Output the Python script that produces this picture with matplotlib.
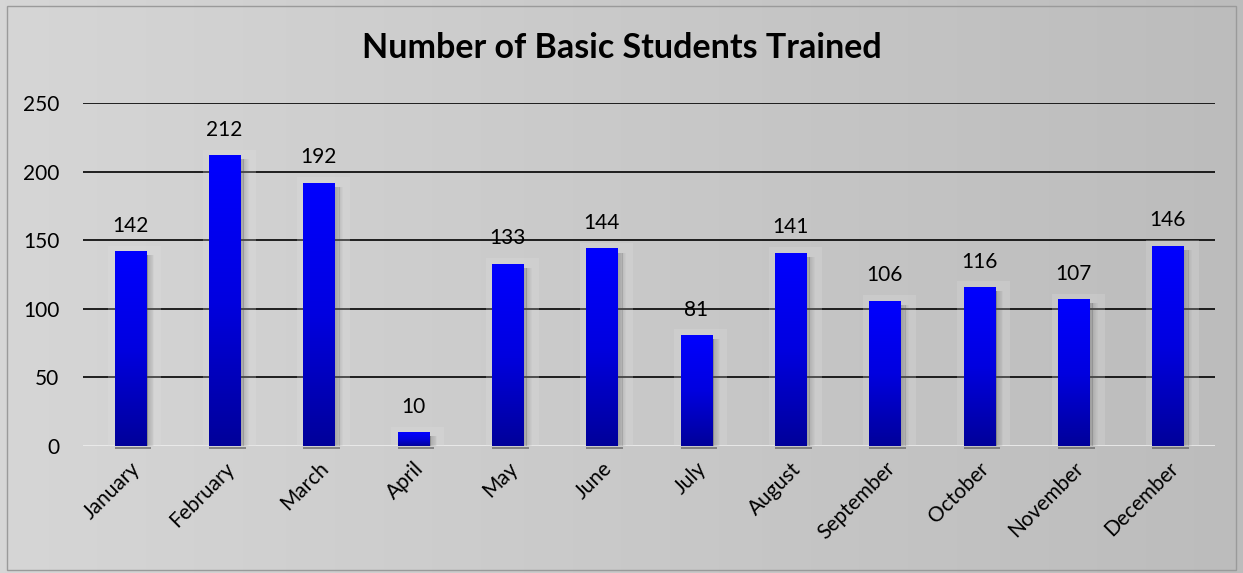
import numpy as np
import matplotlib.pyplot as plt
from matplotlib.patches import Rectangle
from matplotlib.colors import LinearSegmentedColormap

# dane
months = ['January', 'February', 'March', 'April', 'May', 'June', 'July',
          'August', 'September', 'October', 'November', 'December']
students = [142, 212, 192, 10, 133, 144, 81, 141, 106, 116, 107, 146]
y_ticks = [0, 50, 100, 150, 200, 250]

plt.rcParams['font.family'] = ['Lato', 'DejaVu Sans']

fig = plt.figure(figsize=(12.43, 5.73), dpi=100)

# tło figury - gradient od jasnoszarego do ciemniejszego
bg = fig.add_axes([0, 0, 1, 1], zorder=-10)
grad = np.linspace(0, 1, 256).reshape(1, -1)
bg.imshow(grad, aspect='auto', cmap=LinearSegmentedColormap.from_list(
    'bg', ['#d6d6d6', '#c9c9c9', '#bcbcbc']), extent=[0, 1, 0, 1])
bg.add_patch(Rectangle((0.006, 0.006), 0.988, 0.984, fill=False, edgecolor='#9a9a9a', lw=1.0))
bg.set_xlim(0, 1)
bg.set_ylim(0, 1)
bg.axis('off')

ax = fig.add_axes([83 / 1243, 1 - 446 / 573, (1215 - 83) / 1243, (446 - 103) / 573])
ax.patch.set_alpha(0)

x = np.arange(len(months))
width = 0.33

for yv in y_ticks[1:]:
    ax.axhline(yv, color='black', lw=1.2, zorder=1)
ax.axhline(0, color='#ececec', lw=2, zorder=1)

# gradient niebieski w słupkach
bar_cmap = LinearSegmentedColormap.from_list('bar', ['#00009a', '#0000e0', '#0000ff'])
bars = ax.bar(x, students, width=width, color='none', zorder=3)
for xi, val, b in zip(x, students, bars):
    # lekka poświata wokół słupka
    ax.add_patch(Rectangle((xi - 0.23, 0), 0.56, val + 4, facecolor='#e0e0e0', alpha=0.25,
                           edgecolor='none', zorder=2))
    # cień po prawej stronie
    for k in range(10):
        ax.add_patch(Rectangle((xi + width / 2 + k * 0.009, 0), 0.01, val - 3,
                               facecolor='#4a4a4a', alpha=0.35 * (1 - k / 10),
                               edgecolor='none', zorder=2))
    # cień pod słupkiem
    ax.add_patch(Rectangle((xi - width / 2, -2), width + 0.06, 1.2, facecolor='#555555',
                           alpha=0.6, edgecolor='none', zorder=2, clip_on=False))
    g = np.linspace(0, 1, 100).reshape(-1, 1)
    im = ax.imshow(g, cmap=bar_cmap, aspect='auto', origin='lower',
                   extent=[xi - width / 2, xi + width / 2, 0, max(val, 1)], zorder=3)
    im.set_clip_path(b)
    ax.annotate(f'{val}', (xi, val), xytext=(0, 11), textcoords='offset points',
                ha='center', va='bottom', fontsize=15, color='black')

ax.set_xlim(-0.5, 11.5)
ax.set_ylim(0, 250)
ax.set_yticks(y_ticks)
ax.set_xticks(x)
ax.set_xticklabels(months, rotation=45, ha='right', rotation_mode='anchor', fontsize=15)
ax.tick_params(axis='y', labelsize=15, length=0, pad=17)
ax.tick_params(axis='x', length=0, pad=9)
for s in ax.spines.values():
    s.set_visible(False)

fig.text(0.5, 1 - 48 / 573, 'Number of Basic Students Trained', ha='center', va='center',
         fontsize=24.5, fontweight='bold')

fig.savefig('out.png', dpi=100)
